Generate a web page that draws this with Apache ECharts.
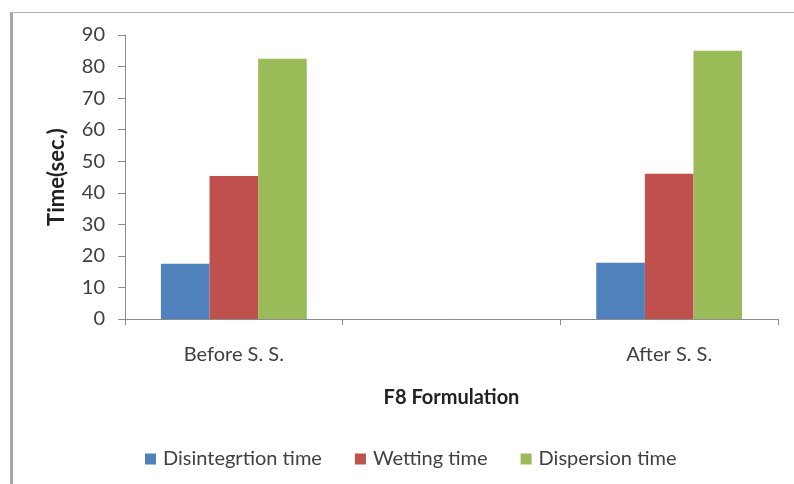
<!DOCTYPE html>
<html>
<head>
<meta charset="utf-8">
<script src="https://cdn.jsdelivr.net/npm/echarts@6/dist/echarts.min.js"></script>
<style>html,body{margin:0;padding:0;background:#fff;}#c{width:794px;height:484px;}</style>
</head>
<body>
<div id="c"></div>
<script>
var categories = ["Before S. S.", "", "After S. S."];
var disintegration = [17.5, null, 17.8];
var wetting = [45.3, null, 46.0];
var dispersion = [82.5, null, 85.0];
var yTicks = [0, 10, 20, 30, 40, 50, 60, 70, 80, 90];

var font = "Lato, 'Open Sans', sans-serif";
var chart = echarts.init(document.getElementById('c'), null, {renderer: 'canvas'});
chart.setOption({
  animation: false,
  backgroundColor: '#ffffff',
  graphic: [
    {type: 'rect', shape: {x: 10, y: 12, width: 3, height: 472}, style: {fill: '#a6a6a6'}},
    {type: 'rect', shape: {x: 10, y: 12, width: 784, height: 1}, style: {fill: '#b0b0b0'}}
  ],
  grid: {left: 125, right: 16, top: 35, bottom: 165, containLabel: false},
  legend: {
    bottom: 10, left: 140, itemWidth: 11, itemHeight: 11, itemGap: 33,
    icon: 'rect',
    textStyle: {fontFamily: font, fontSize: 20, color: '#404040', padding: [0,0,0,2]},
    data: ['Disintegrtion time', 'Wetting time', 'Dispersion time']
  },
  xAxis: {
    type: 'category', data: categories,
    name: 'F8 Formulation', nameLocation: 'middle', nameGap: 69,
    nameTextStyle: {fontFamily: font, fontSize: 20, fontWeight: 'bold', color: '#222'},
    axisLine: {lineStyle: {color: '#8c8c8c', width: 1}},
    axisTick: {show: true, length: 6, lineStyle: {color: '#8c8c8c'}},
    axisLabel: {fontFamily: font, fontSize: 20, color: '#404040', margin: 26}
  },
  yAxis: {
    type: 'value', min: 0, max: 90, interval: 10,
    name: 'Time(sec.)', nameLocation: 'middle', nameGap: 57, nameRotate: 90,
    nameTextStyle: {fontFamily: font, fontSize: 22, fontWeight: 'bold', color: '#222'},
    axisLine: {show: true, lineStyle: {color: '#8c8c8c', width: 1}},
    axisTick: {show: true, length: 7, lineStyle: {color: '#8c8c8c'}},
    splitLine: {show: false},
    axisLabel: {fontFamily: font, fontSize: 20, color: '#404040', margin: 20,
      formatter: function (v) { return yTicks.indexOf(v) >= 0 ? String(v) : ''; }}
  },
  series: [
    {name: 'Disintegrtion time', type: 'bar', data: disintegration, barGap: '0%', barCategoryGap: '33%', itemStyle: {color: '#4f81bd'}},
    {name: 'Wetting time', type: 'bar', data: wetting, barGap: '0%', barCategoryGap: '33%', itemStyle: {color: '#c0504d'}},
    {name: 'Dispersion time', type: 'bar', data: dispersion, barGap: '0%', barCategoryGap: '33%', itemStyle: {color: '#9bbb59'}}
  ]
});
</script>
</body>
</html>
